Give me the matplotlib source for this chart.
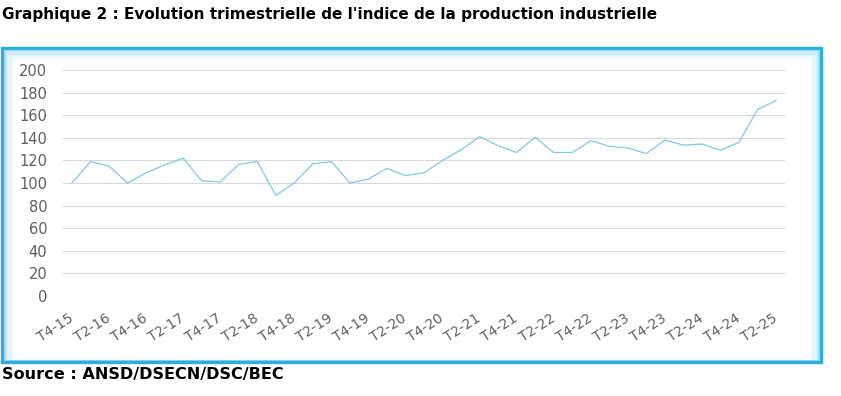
import matplotlib
matplotlib.use("Agg")
import matplotlib.pyplot as plt
from matplotlib.patches import Rectangle
from matplotlib.transforms import ScaledTranslation

# quarterly industrial production index, T4-15 .. T2-25
quarters = []
for yr in range(15, 26):
    for q in range(1, 5):
        if (yr == 15 and q < 4) or (yr == 25 and q > 2):
            continue
        quarters.append(f"T{q}-{yr}")

index_values = [
    100, 119, 115, 100, 109, 116, 122, 102, 101, 116.5,
    119, 89, 100, 117, 119, 100, 103.5, 113, 106.5, 109,
    120, 129.5, 141, 133, 127, 140.5, 127, 127, 137.5, 132.5,
    131, 126, 138, 133.5, 134.5, 129, 136, 165, 173,
]
y_ticks = list(range(0, 201, 20))

W, H = 841, 396
fig = plt.figure(figsize=(W / 100, H / 100), dpi=100)


def fx(px):
    return px / W


def fy(py):
    return 1 - py / H


# title and source
fig.text(fx(2), fy(14), "Graphique 2 : Evolution trimestrielle de l'indice de la production industrielle",
         fontsize=11, fontweight="bold", family="DejaVu Sans", va="center", ha="left")
fig.text(fx(2), fy(374), "Source : ANSD/DSECN/DSC/BEC",
         fontsize=11.6, fontweight="bold", family="DejaVu Sans", va="center", ha="left")

# framed box with a soft glow on the inside
bx0, by0, bx1, by1 = 1.5, 48, 821, 362
for k, a in enumerate([0.4, 0.26, 0.15, 0.07]):
    off = 2 + 2.5 * k
    fig.patches.append(Rectangle((fx(bx0 + off), fy(by1 - 1)), fx(bx1 - bx0 - 2 * off), fy(by0 + off) - fy(by1 - 1),
                                 transform=fig.transFigure, fill=False, ec="#5cc3ea", lw=2.2, alpha=a))
fig.patches.append(Rectangle((fx(bx0), fy(by1)), fx(bx1 - bx0), fy(by0) - fy(by1),
                             transform=fig.transFigure, fill=False, ec="#2aaee3", lw=2.4))

ax = fig.add_axes([fx(62.7), fy(296), fx(785.3 - 62.7), fy(70) - fy(296)])
x = list(range(len(quarters)))
ax.plot(x, index_values, color="#7ecbe3", lw=0.9)

ax.set_xlim(-0.5, len(quarters) - 0.5)
ax.set_ylim(0, 200)
ax.set_yticks(y_ticks)
ax.set_yticklabels([str(v) for v in y_ticks], fontsize=10.5, color="#606060", family="DejaVu Sans")
ax.grid(axis="y", color="#d9d9d9", lw=0.8)
ax.set_axisbelow(True)
ax.set_xticks(x[::2])
ax.set_xticklabels(quarters[::2], rotation=33, ha="right", va="center",
                   rotation_mode="anchor", fontsize=10, color="#606060", family="DejaVu Sans")
shift = ScaledTranslation(9 / 100, 0, fig.dpi_scale_trans)
for lbl in ax.get_xticklabels():
    lbl.set_transform(lbl.get_transform() + shift)
ax.tick_params(length=0)
ax.tick_params(axis="y", pad=11)
ax.tick_params(axis="x", pad=15)
for s in ax.spines.values():
    s.set_visible(False)

fig.savefig("out.png", dpi=100)
